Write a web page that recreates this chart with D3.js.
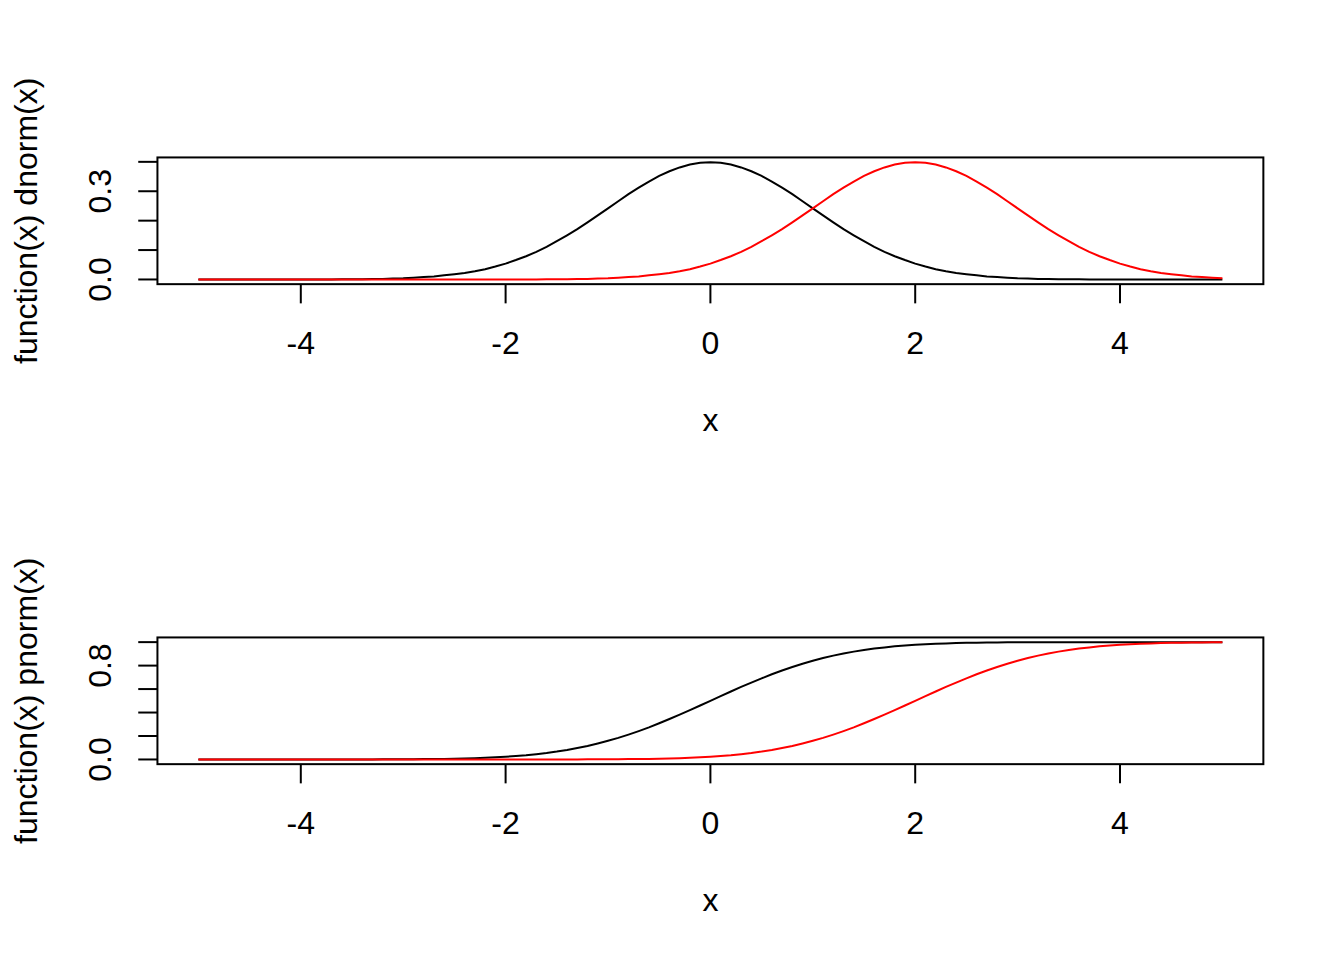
<!DOCTYPE html>
<html>
<head>
<meta charset="utf-8">
<script src="https://cdn.jsdelivr.net/npm/d3@7"></script>
<style>
  body { margin: 0; background: #fff; }
  text { font-family: "Liberation Sans", Arial, sans-serif; font-size: 32px; fill: #000; }
</style>
</head>
<body>
<script>
// page size
var w = 1344;
var h = 960;

// x grid used by curve() (101 points, -5 .. 5)
var xGrid = [
  -5.0,-4.9,-4.8,-4.7,-4.6,-4.5,-4.4,-4.3,-4.2,-4.1,
  -4.0,-3.9,-3.8,-3.7,-3.6,-3.5,-3.4,-3.3,-3.2,-3.1,
  -3.0,-2.9,-2.8,-2.7,-2.6,-2.5,-2.4,-2.3,-2.2,-2.1,
  -2.0,-1.9,-1.8,-1.7,-1.6,-1.5,-1.4,-1.3,-1.2,-1.1,
  -1.0,-0.9,-0.8,-0.7,-0.6,-0.5,-0.4,-0.3,-0.2,-0.1,
   0.0, 0.1, 0.2, 0.3, 0.4, 0.5, 0.6, 0.7, 0.8, 0.9,
   1.0, 1.1, 1.2, 1.3, 1.4, 1.5, 1.6, 1.7, 1.8, 1.9,
   2.0, 2.1, 2.2, 2.3, 2.4, 2.5, 2.6, 2.7, 2.8, 2.9,
   3.0, 3.1, 3.2, 3.3, 3.4, 3.5, 3.6, 3.7, 3.8, 3.9,
   4.0, 4.1, 4.2, 4.3, 4.4, 4.5, 4.6, 4.7, 4.8, 4.9,
   5.0];

// top panel: density, black (mean 0) and red (mean 2)
var dnormBlack = [
  0.000,0.000,0.000,0.000,0.000,0.000,0.000,0.000,0.000,0.000,
  0.000,0.000,0.000,0.000,0.001,0.001,0.001,0.002,0.002,0.003,
  0.004,0.006,0.008,0.010,0.014,0.018,0.022,0.028,0.035,0.044,
  0.054,0.066,0.079,0.094,0.111,0.130,0.150,0.171,0.194,0.218,
  0.242,0.266,0.290,0.312,0.333,0.352,0.368,0.381,0.391,0.397,
  0.399,0.397,0.391,0.381,0.368,0.352,0.333,0.312,0.290,0.266,
  0.242,0.218,0.194,0.171,0.150,0.130,0.111,0.094,0.079,0.066,
  0.054,0.044,0.035,0.028,0.022,0.018,0.014,0.010,0.008,0.006,
  0.004,0.003,0.002,0.002,0.001,0.001,0.001,0.000,0.000,0.000,
  0.000,0.000,0.000,0.000,0.000,0.000,0.000,0.000,0.000,0.000,
  0.000];
var dnormRed = [
  0.000,0.000,0.000,0.000,0.000,0.000,0.000,0.000,0.000,0.000,
  0.000,0.000,0.000,0.000,0.000,0.000,0.000,0.000,0.000,0.000,
  0.000,0.000,0.000,0.000,0.000,0.000,0.000,0.000,0.000,0.000,
  0.000,0.000,0.000,0.000,0.001,0.001,0.001,0.002,0.002,0.003,
  0.004,0.006,0.008,0.010,0.014,0.018,0.022,0.028,0.035,0.044,
  0.054,0.066,0.079,0.094,0.111,0.130,0.150,0.171,0.194,0.218,
  0.242,0.266,0.290,0.312,0.333,0.352,0.368,0.381,0.391,0.397,
  0.399,0.397,0.391,0.381,0.368,0.352,0.333,0.312,0.290,0.266,
  0.242,0.218,0.194,0.171,0.150,0.130,0.111,0.094,0.079,0.066,
  0.054,0.044,0.035,0.028,0.022,0.018,0.014,0.010,0.008,0.006,
  0.004];

// bottom panel: cumulative, black (mean 0) and red (mean 2)
var pnormBlack = [
  0.000,0.000,0.000,0.000,0.000,0.000,0.000,0.000,0.000,0.000,
  0.000,0.000,0.000,0.000,0.000,0.000,0.000,0.000,0.001,0.001,
  0.001,0.002,0.003,0.003,0.005,0.006,0.008,0.011,0.014,0.018,
  0.023,0.029,0.036,0.045,0.055,0.067,0.081,0.097,0.115,0.136,
  0.159,0.184,0.212,0.242,0.274,0.309,0.345,0.382,0.421,0.460,
  0.500,0.540,0.579,0.618,0.655,0.691,0.726,0.758,0.788,0.816,
  0.841,0.864,0.885,0.903,0.919,0.933,0.945,0.955,0.964,0.971,
  0.977,0.982,0.986,0.989,0.992,0.994,0.995,0.997,0.997,0.998,
  0.999,0.999,0.999,1.000,1.000,1.000,1.000,1.000,1.000,1.000,
  1.000,1.000,1.000,1.000,1.000,1.000,1.000,1.000,1.000,1.000,
  1.000];
var pnormRed = [
  0.000,0.000,0.000,0.000,0.000,0.000,0.000,0.000,0.000,0.000,
  0.000,0.000,0.000,0.000,0.000,0.000,0.000,0.000,0.000,0.000,
  0.000,0.000,0.000,0.000,0.000,0.000,0.000,0.000,0.000,0.000,
  0.000,0.000,0.000,0.000,0.000,0.000,0.000,0.000,0.001,0.001,
  0.001,0.002,0.003,0.003,0.005,0.006,0.008,0.011,0.014,0.018,
  0.023,0.029,0.036,0.045,0.055,0.067,0.081,0.097,0.115,0.136,
  0.159,0.184,0.212,0.242,0.274,0.309,0.345,0.382,0.421,0.460,
  0.500,0.540,0.579,0.618,0.655,0.691,0.726,0.758,0.788,0.816,
  0.841,0.864,0.885,0.903,0.919,0.933,0.945,0.955,0.964,0.971,
  0.977,0.982,0.986,0.989,0.992,0.994,0.995,0.997,0.997,0.998,
  0.999];

// ticks and labels
var xTicks = [-4, -2, 0, 2, 4];
var dnormTicks = [0, 0.1, 0.2, 0.3, 0.4];
var dnormTickLabels = ["0.0", "", "", "0.3", ""];
var pnormTicks = [0, 0.2, 0.4, 0.6, 0.8, 1.0];
var pnormTickLabels = ["0.0", "", "", "", "0.8", ""];

var panels = [
  {top: 0,   ylab: "function(x) dnorm(x)", black: dnormBlack, red: dnormRed, ticks: dnormTicks, labels: dnormTickLabels},
  {top: 480, ylab: "function(x) pnorm(x)", black: pnormBlack, red: pnormRed, ticks: pnormTicks, labels: pnormTickLabels}
];

// R-style margins: 1 line = 38.4px
var lineH = 38.4;
var left = 4.1 * lineH, right = w - 2.1 * lineH;
var boxTop = 4.1 * lineH, boxBottom = 480 - 5.1 * lineH;
var tickLen = 0.5 * lineH;

var svg = d3.select("body")
            .append("svg")
            .attr("width", w)
            .attr("height", h);

// R extends the data range by 4% on each side
function rRange(ext) {
  var d = (ext[1] - ext[0]) * 0.04;
  return [ext[0] - d, ext[1] + d];
}

var x = d3.scaleLinear()
  .domain(rRange(d3.extent(xGrid)))
  .range([left, right]);

panels.forEach(function(p) {
  var g = svg.append("g").attr("transform", "translate(0," + p.top + ")");

  var allY = p.black.concat(p.red);
  var y = d3.scaleLinear()
    .domain(rRange(d3.extent(allY)))
    .range([boxBottom, boxTop]);

  var line = d3.line()
    .x(function(d, i) { return x(xGrid[i]); })
    .y(function(d) { return y(d); });

  g.append("path")
    .datum(p.black)
    .attr("d", line)
    .attr("fill", "none")
    .attr("stroke", "#000")
    .attr("stroke-width", 2);

  g.append("path")
    .datum(p.red)
    .attr("d", line)
    .attr("fill", "none")
    .attr("stroke", "#ff0000")
    .attr("stroke-width", 2);

  // box
  g.append("rect")
    .attr("x", left)
    .attr("y", boxTop)
    .attr("width", right - left)
    .attr("height", boxBottom - boxTop)
    .attr("fill", "none")
    .attr("stroke", "#000")
    .attr("stroke-width", 2);

  // x axis
  g.selectAll("line.xtick")
    .data(xTicks)
    .enter()
    .append("line")
      .classed("xtick", true)
      .attr("x1", function(d) { return x(d); })
      .attr("x2", function(d) { return x(d); })
      .attr("y1", boxBottom)
      .attr("y2", boxBottom + tickLen)
      .attr("stroke", "#000")
      .attr("stroke-width", 2);

  g.selectAll("text.xlab")
    .data(xTicks)
    .enter()
    .append("text")
      .classed("xlab", true)
      .attr("x", function(d) { return x(d); })
      .attr("y", 354)
      .style("text-anchor", "middle")
      .text(function(d) { return d < 0 ? "-" + Math.abs(d) : d; });

  g.append("text")
    .attr("x", (left + right) / 2)
    .attr("y", 431)
    .style("text-anchor", "middle")
    .text("x");

  // y axis
  g.selectAll("line.ytick")
    .data(p.ticks)
    .enter()
    .append("line")
      .classed("ytick", true)
      .attr("x1", left - tickLen)
      .attr("x2", left)
      .attr("y1", function(d) { return y(d); })
      .attr("y2", function(d) { return y(d); })
      .attr("stroke", "#000")
      .attr("stroke-width", 2);

  g.selectAll("text.ylab")
    .data(p.ticks)
    .enter()
    .append("text")
      .classed("ylab", true)
      .attr("transform", function(d) { return "translate(111," + y(d) + ") rotate(-90)"; })
      .style("text-anchor", "middle")
      .text(function(d, i) { return p.labels[i]; });

  g.append("text")
    .attr("transform", "translate(37," + (boxTop + boxBottom) / 2 + ") rotate(-90)")
    .style("text-anchor", "middle")
    .text(p.ylab);
});
</script>
</body>
</html>
